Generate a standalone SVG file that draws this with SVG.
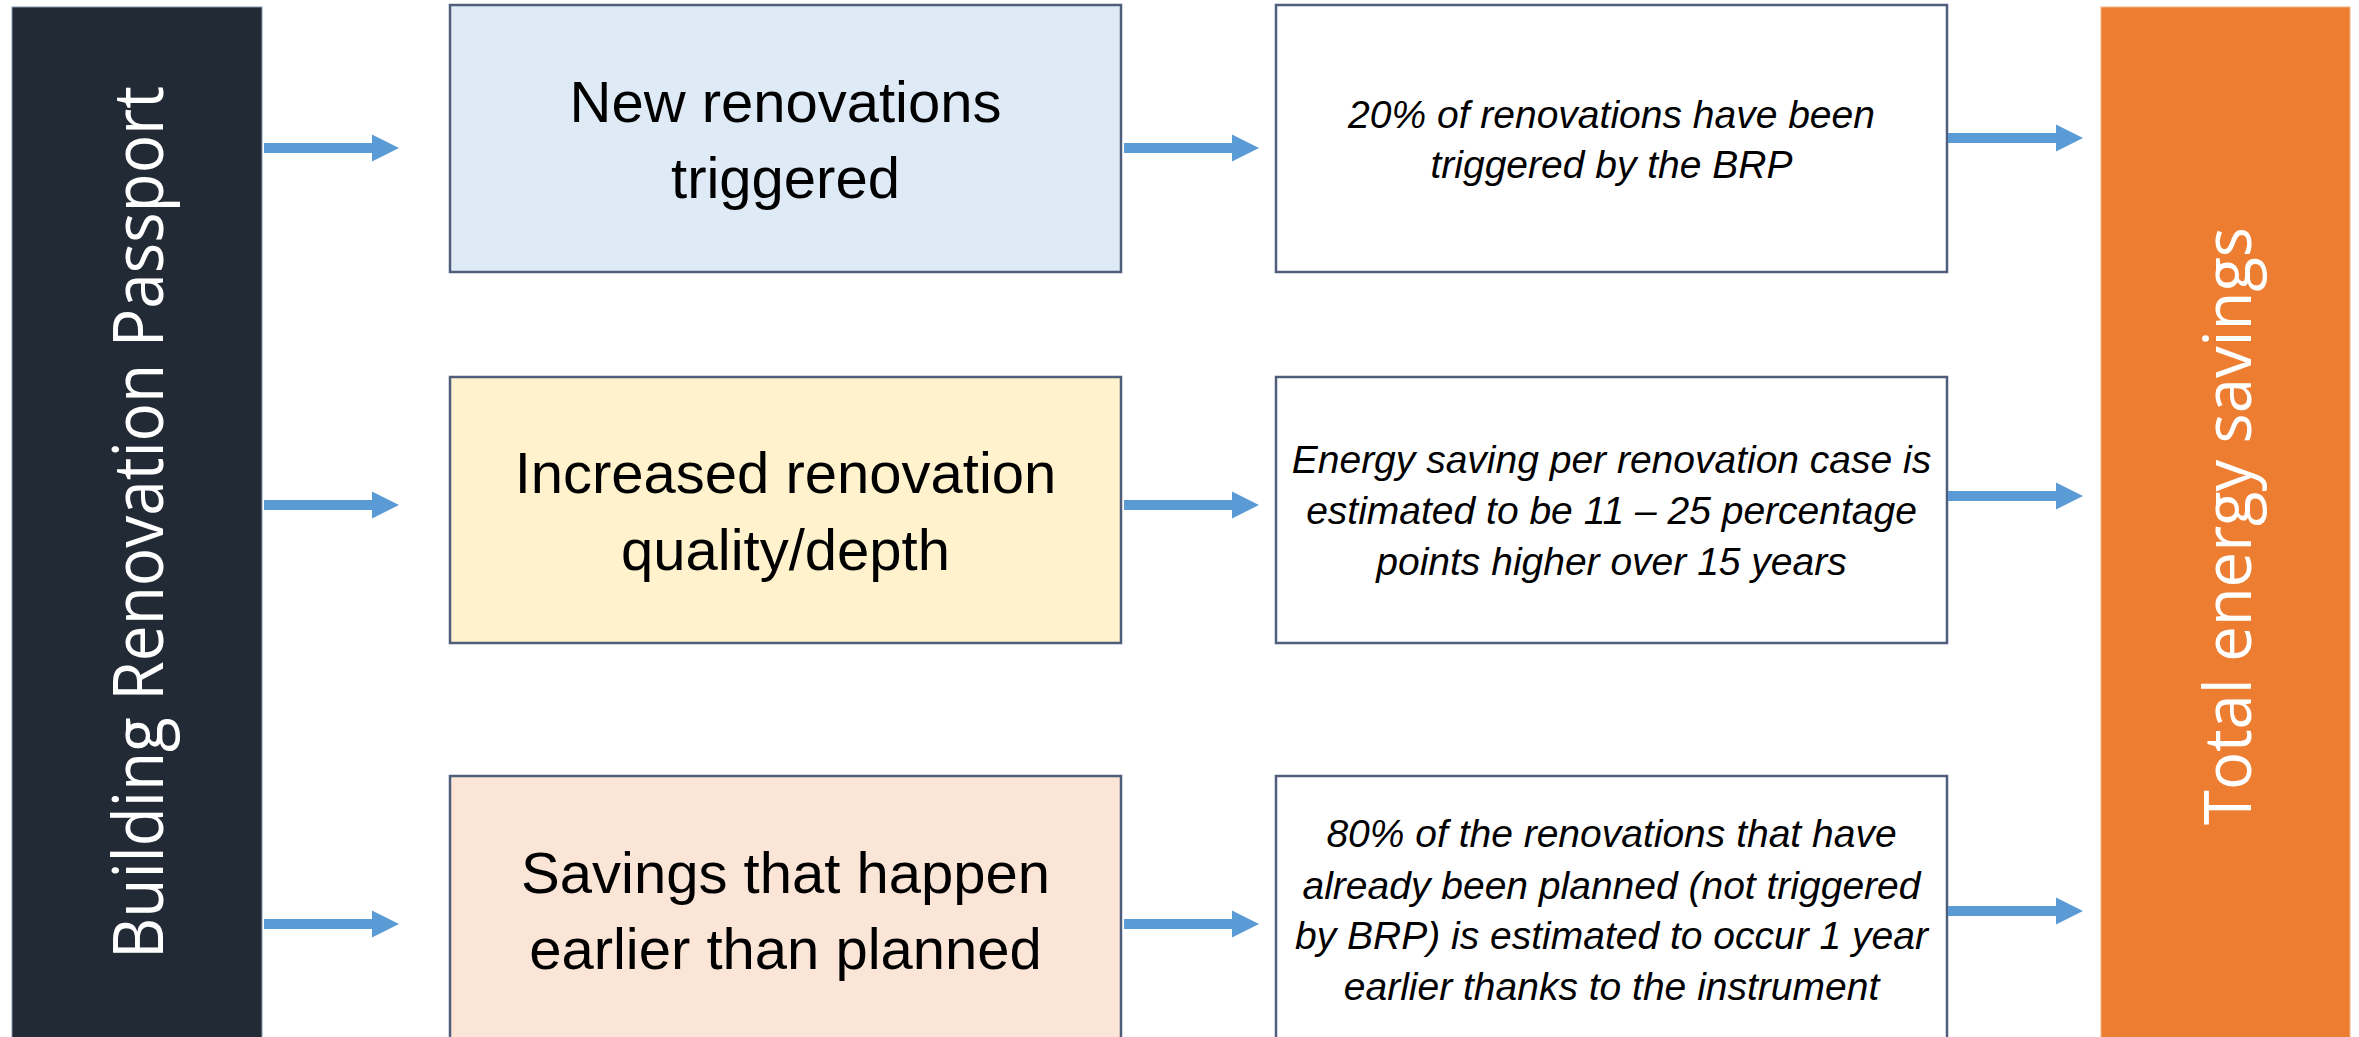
<svg xmlns="http://www.w3.org/2000/svg" width="2359" height="1037" viewBox="0 0 2359 1037">
<defs>
<style>
.box{stroke:#4F5E7B;stroke-width:2.5}
.t1{font-family:"Liberation Sans",Arial,sans-serif;font-size:58px;fill:#000;text-anchor:middle}
.t2{font-family:"Liberation Sans",Arial,sans-serif;font-size:39px;font-style:italic;fill:#000;text-anchor:middle}
.vt{font-family:"Open Sans","Noto Sans",sans-serif;fill:#fff;text-anchor:middle}
</style>
<path id="arrow" fill="#5B9BD5" d="M0,-5 H108 V-13.5 L135,0 L108,13.5 V5 H0 Z"/>
</defs>
<rect width="2359" height="1037" fill="#fff"/>

<g id="brp">
<rect x="12" y="7" width="250" height="1040" fill="#222A35" stroke="#8497B0" stroke-width="1"/>
<text class="vt" x="163" y="522.5" font-size="70" textLength="873" lengthAdjust="spacingAndGlyphs" transform="rotate(-90 163 522.5)">Building Renovation Passport</text>
</g>

<g id="new-renovations">
<rect class="box" x="450" y="5" width="671" height="267" fill="#DEEBF7"/>
<text class="t1" x="785.5" y="122">New renovations</text>
<text class="t1" x="785.5" y="198">triggered</text>
</g>

<g id="increased-quality">
<rect class="box" x="450" y="377" width="671" height="266" fill="#FFF2CC"/>
<text class="t1" x="785.5" y="493">Increased renovation</text>
<text class="t1" x="785.5" y="570">quality/depth</text>
</g>

<g id="earlier-savings">
<rect class="box" x="450" y="776" width="671" height="280" fill="#FBE5D6"/>
<text class="t1" x="785.5" y="893">Savings that happen</text>
<text class="t1" x="785.5" y="969">earlier than planned</text>
</g>

<g id="note-triggered">
<rect class="box" x="1276" y="5" width="671" height="267" fill="#fff"/>
<text class="t2" x="1611.5" y="128">20% of renovations have been</text>
<text class="t2" x="1611.5" y="178">triggered by the BRP</text>
</g>

<g id="note-quality">
<rect class="box" x="1276" y="377" width="671" height="266" fill="#fff"/>
<text class="t2" x="1611.5" y="473">Energy saving per renovation case is</text>
<text class="t2" x="1611.5" y="524">estimated to be 11 – 25 percentage</text>
<text class="t2" x="1611.5" y="575">points higher over 15 years</text>
</g>

<g id="note-earlier">
<rect class="box" x="1276" y="776" width="671" height="280" fill="#fff"/>
<text class="t2" x="1611.5" y="847">80% of the renovations that have</text>
<text class="t2" x="1611.5" y="899">already been planned (not triggered</text>
<text class="t2" x="1611.5" y="949">by BRP) is estimated to occur 1 year</text>
<text class="t2" x="1611.5" y="1000">earlier thanks to the instrument</text>
</g>

<g id="total-savings">
<rect x="2101" y="7" width="249" height="1040" fill="#ED7D31" stroke="#F4B183" stroke-width="1"/>
<text class="vt" x="2251" y="526" font-size="66" textLength="598" lengthAdjust="spacingAndGlyphs" transform="rotate(-90 2251 526)">Total energy savings</text>
</g>

<g id="connectors">
<use href="#arrow" x="264" y="148"/>
<use href="#arrow" x="264" y="505"/>
<use href="#arrow" x="264" y="924"/>
<use href="#arrow" x="1124" y="148"/>
<use href="#arrow" x="1124" y="505"/>
<use href="#arrow" x="1124" y="924"/>
<use href="#arrow" x="1948" y="138"/>
<use href="#arrow" x="1948" y="496"/>
<use href="#arrow" x="1948" y="911"/>
</g>
</svg>
